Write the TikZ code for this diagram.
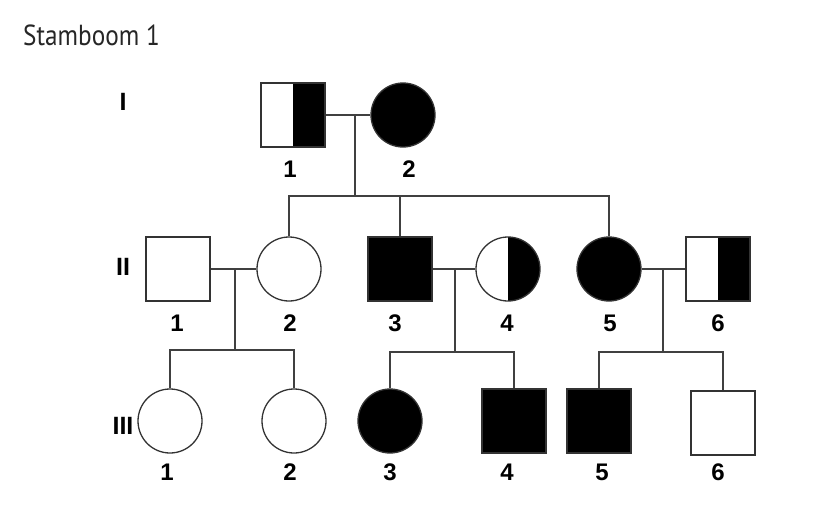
\documentclass[tikz,border=0pt]{standalone}
\usepackage{fontspec}
\setmainfont{Liberation Sans}
\newfontfamily\titlefont{PT Sans}
\usepackage{tikz}
\usetikzlibrary{shapes}

\tikzset{
	person/.style={draw=black!80, line width=1.3bp, inner sep=0pt, minimum size=64bp},
	male/.style={person, rectangle},
	female/.style={person, circle},
	affected/.style={fill=black},
	carrier/.style={path picture={\fill[black] (path picture bounding box.north) rectangle (path picture bounding box.south east);}},
	num/.style={inner sep=0pt, font=\fontsize{24bp}{28bp}\selectfont\bfseries},
	gen/.style={inner sep=0pt, font=\fontsize{25bp}{29bp}\selectfont\bfseries},
	kin/.style={draw=black!75, line width=1.3bp},
}

\begin{document}
\begin{tikzpicture}[line join=miter]%every node/.style={scale=1}
	\useasboundingbox [fill=white] (0bp,0bp) rectangle (819bp,-517bp);

	\node (title) at (23bp,-45bp) [anchor=base west, inner sep=0pt, text=black!85, font=\titlefont\fontsize{29bp}{33bp}\selectfont] {\scalebox{0.87}[1]{Stamboom 1}};

	\node (gI)   at (123bp,-102bp) [gen] {I};
	\node (gII)  at (123bp,-267bp) [gen] {II};
	\node (gIII) at (123bp,-426bp) [gen] {III};

	% generatie I
	\node (I1) at (293bp,-115bp) [male, carrier]    {};
	\node (I2) at (403bp,-115bp) [female, affected] {};

	% generatie II
	\node (II1) at (178bp,-269bp) [male]             {};
	\node (II2) at (289bp,-269bp) [female]           {};
	\node (II3) at (400bp,-269bp) [male, affected]   {};
	\node (II4) at (508bp,-269bp) [female, carrier]  {};
	\node (II5) at (609bp,-269bp) [female, affected] {};
	\node (II6) at (718bp,-269bp) [male, carrier]    {};

	% generatie III
	\node (III1) at (170bp,-421bp) [female]           {};
	\node (III2) at (294bp,-421bp) [female]           {};
	\node (III3) at (390bp,-421bp) [female, affected] {};
	\node (III4) at (514bp,-421bp) [male, affected]   {};
	\node (III5) at (599bp,-421bp) [male, affected]   {};
	\node (III6) at (723bp,-423bp) [male]             {};

	% nummers
	\node (nI1) at (290bp,-169bp) [num] {1};
	\node (nI2) at (409bp,-169bp) [num] {2};
	\node (nII1) at (177bp,-323bp) [num] {1};
	\node (nII2) at (290bp,-323bp) [num] {2};
	\node (nII3) at (395bp,-323bp) [num] {3};
	\node (nII4) at (507bp,-323bp) [num] {4};
	\node (nII5) at (610bp,-323bp) [num] {5};
	\node (nII6) at (718bp,-323bp) [num] {6};
	\node (nIII1) at (167bp,-472bp) [num] {1};
	\node (nIII2) at (290bp,-472bp) [num] {2};
	\node (nIII3) at (390bp,-472bp) [num] {3};
	\node (nIII4) at (507bp,-472bp) [num] {4};
	\node (nIII5) at (602bp,-472bp) [num] {5};
	\node (nIII6) at (718bp,-472bp) [num] {6};

	% huwelijken
	\coordinate (mI)   at (355bp,-115bp);
	\coordinate (mII1) at (235bp,-269bp);
	\coordinate (mII3) at (455bp,-269bp);
	\coordinate (mII5) at (663bp,-269bp);
	\coordinate (sI)   at (355bp,-196bp);
	\coordinate (sII1) at (235bp,-350bp);
	\coordinate (sII3) at (455bp,-352bp);
	\coordinate (sII5) at (663bp,-352bp);

	\draw [kin] (I1) -- (I2);
	\draw [kin] (II1) -- (II2);
	\draw [kin] (II3) -- (II4);
	\draw [kin] (II5) -- (II6);

	\draw [kin] (mI) -- (sI);
	\draw [kin] (mII1) -- (sII1);
	\draw [kin] (mII3) -- (sII3);
	\draw [kin] (mII5) -- (sII5);

	\draw [kin] (II2.north) |- (sI) -| (II5.north);
	\draw [kin] (II3.north) -- (II3.north |- sI);
	\draw [kin] (III1.north) |- (sII1) -| (III2.north);
	\draw [kin] (III3.north) |- (sII3) -| (III4.north);
	\draw [kin] (III5.north) |- (sII5) -| (III6.north);
\end{tikzpicture}
\end{document}
